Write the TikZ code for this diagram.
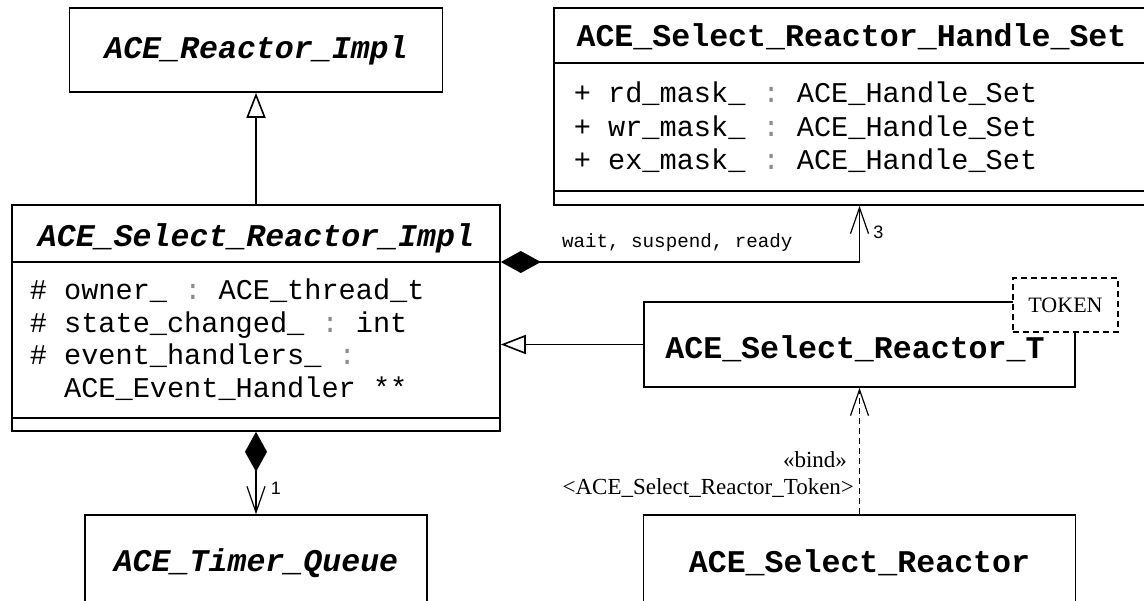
\documentclass[tikz,border=0pt]{standalone}
\usepackage{fontspec}
\setmonofont{Liberation Mono}
\newfontfamily\umlserif{Liberation Serif}
\newfontfamily\umlsans{Liberation Sans}
\usetikzlibrary{arrows.meta,positioning}

\newcommand{\typesep}{\textcolor{black!45}{:}}

\tikzset{
  umlbox/.style={draw, fill=white, inner sep=0pt},
  classname/.style={font=\fontsize{15.8}{18}\selectfont\ttfamily\bfseries},
  abstractname/.style={font=\fontsize{15.8}{18}\selectfont\ttfamily\bfseries\itshape},
  attr/.style={anchor=west, inner sep=0pt, text height=1.6ex, text depth=0pt,
    font=\fontsize{14.3}{16}\selectfont\ttfamily},
  opname/.style={inner sep=0pt, font=\fontsize{9.6}{11}\selectfont\ttfamily},
  mult/.style={inner sep=1pt, font=\umlsans\fontsize{9}{11}\selectfont},
  stereo/.style={inner sep=0pt, font=\umlserif\fontsize{11.5}{13}\selectfont},
  inherit/.style={-{Triangle[open, length=12.5pt, width=9.5pt]}},
  comp/.style={{Diamond[length=20pt, width=11pt]}-{Straight Barb[length=13pt, width=9pt, line width=0.6pt]}},
  depend/.style={line width=0.6pt, dash pattern=on 3pt off 2pt,
    -{Straight Barb[length=13pt, width=9pt]}}
}

\begin{document}
\begin{tikzpicture}[x=0.5pt, y=-0.5pt, line width=0.8pt]
  \useasboundingbox (0,0) rectangle (1144,600);
  \clip (0,0) rectangle (1144,600);

  % compartment lines
  \coordinate (implsep1) at (0,262);
  \coordinate (implsep2) at (0,418);
  \coordinate (hssep1) at (0,63);
  \coordinate (hssep2) at (0,191);

  % classes
  \node[umlbox, abstractname, minimum width=186.5pt, minimum height=42pt] (reactorimpl) at (256,50) {ACE\_Reactor\_Impl};

  \node[umlbox, minimum width=244pt, minimum height=113pt] (selimpl) at (256,318) {};
  \node[abstractname] (selimpl-name) at (256,238) {ACE\_Select\_Reactor\_Impl};
  \draw (selimpl.west |- implsep1) -- (selimpl.east |- implsep1);
  \draw (selimpl.west |- implsep2) -- (selimpl.east |- implsep2);
  \foreach \attr [count=\i from 0] in {\# owner\_ \typesep{} ACE\_thread\_t,
      \# state\_changed\_ \typesep{} int, \# event\_handlers\_ \typesep,
      \phantom{\# }ACE\_Event\_Handler **}
    \node[attr] (implattr\i) at (29,293+32.4*\i) {\attr};

  \node[umlbox, minimum width=297.5pt, minimum height=98.5pt] (handleset) at (851.5,106.5) {};
  \node[classname] (handleset-name) at (851.5,37) {ACE\_Select\_Reactor\_Handle\_Set};
  \draw (handleset.west |- hssep1) -- (handleset.east |- hssep1);
  \draw (handleset.west |- hssep2) -- (handleset.east |- hssep2);
  \foreach \attr [count=\i from 0] in {rd, wr, ex}
    \node[attr] (hsattr\i) at (573,96+33.5*\i) {+ \attr\_mask\_ \typesep{} ACE\_Handle\_Set};

  \node[umlbox, minimum width=215.5pt, minimum height=42.5pt] (selT) at (859.5,344.5) {};
  \node[classname, anchor=base, inner sep=0pt] (selT-name) at (855,358) {ACE\_Select\_Reactor\_T};
  \node[umlbox, dash pattern=on 3pt off 2pt, line width=0.6pt, minimum width=52.5pt, minimum height=27pt,
    font=\umlserif\fontsize{11}{13}\selectfont] (token) at (1065.5,305) {TOKEN};

  \node[umlbox, abstractname, minimum width=171pt, minimum height=48pt] (timerq) at (256,563) {ACE\_Timer\_Queue};
  \node[umlbox, classname, minimum width=216pt, minimum height=48pt] (selreactor) at (859.5,563) {ACE\_Select\_Reactor};

  % relations
  \draw[inherit] (selimpl.north) -- (reactorimpl.south);
  \draw[inherit] (selT.west) -- (selT.west -| selimpl.east);
  \draw[comp] (selimpl.east |- implsep1) -| node[opname, pos=.246, yshift=9.5pt] {wait, suspend, ready}
    node[mult, pos=.76, right, xshift=5.5pt] {3} (selT.north |- handleset.south);
  \draw[comp] (selimpl.south) -- node[mult, pos=.68, right, xshift=6pt] {1} (timerq.north);
  \draw[depend] (selreactor.north) -- node[stereo, pos=.43, left, xshift=-6pt] {«bind»}
    node[stereo, pos=.21, left, xshift=-2.5pt] {<ACE\_Select\_Reactor\_Token>} (selT.south);
\end{tikzpicture}
\end{document}
